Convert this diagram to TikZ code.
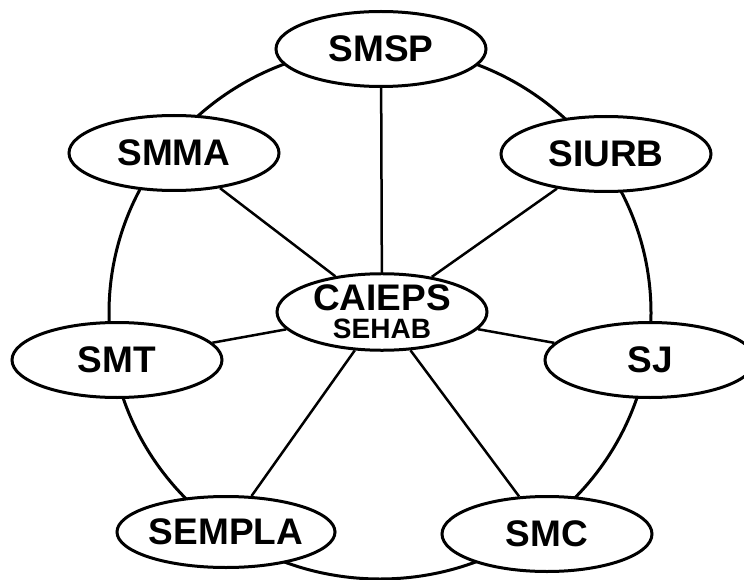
\documentclass[tikz,border=0pt]{standalone}
\usepackage{fontspec}
\setmainfont{Liberation Sans}
\usetikzlibrary{shapes.geometric}

\begin{document}
\begin{tikzpicture}[x=1pt, y=-1pt, line width=3pt, main/.style = {draw, ellipse, fill=white, minimum width=210pt, minimum height=75pt, inner sep=0pt, font=\fontsize{37}{37}\selectfont\bfseries}, spoke/.style = {line width=2.5pt}]
\useasboundingbox (0,0) rectangle (744,580);
\draw (380,313) circle [x radius=271, y radius=266];

\node[main] (smsp) at (381,49) {SMSP};
\node[main] (smma) at (174,153) {SMMA};
\node[main] (siurb) at (606,154) {SIURB};
\node[main, align=center, minimum height=73pt] (caieps) at (382,312) {CAIEPS\\[-9pt]{\fontsize{28}{28}\selectfont SEHAB}};
\node[main] (smt) at (117,360) {SMT};
\node[main] (sj) at (650,360) {SJ};
\node[main, minimum width=208pt, minimum height=71pt] (sempla) at (226,532) {SEMPLA};
\node[main] (smc) at (547,534) {SMC};

\draw[spoke] (caieps) -- (smsp);
\draw[spoke] (caieps) -- (smma);
\draw[spoke] (caieps) -- (siurb);
\draw[spoke] (caieps) -- (smt);
\draw[spoke] (caieps) -- (sj);
\draw[spoke] (caieps) -- (sempla);
\draw[spoke] (caieps) -- (smc);
\end{tikzpicture}
\end{document}
